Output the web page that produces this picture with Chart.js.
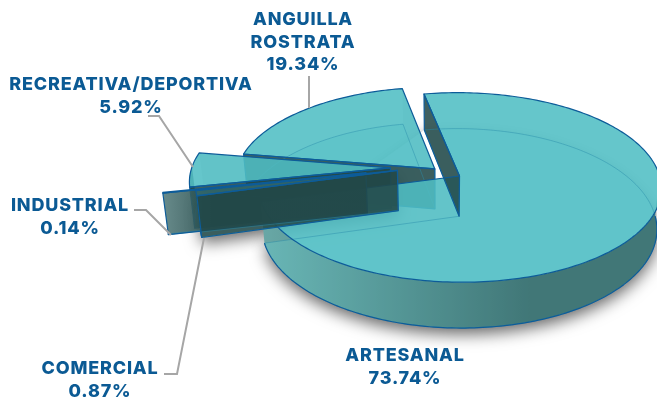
<!DOCTYPE html>
<html>
<head>
<meta charset="utf-8">
<title>Pie</title>
<script src="https://cdn.jsdelivr.net/npm/chart.js@4/dist/chart.umd.min.js"></script>
<style>
    html, body { margin: 0; padding: 0; background: #fff; overflow: hidden; }
    canvas { display: block; }
</style>
</head>
<body>
<canvas id="myChart" width="657" height="401"></canvas>
<script>
// clockwise from the cut near the top of the pie
var categories = ['ARTESANAL', 'COMERCIAL', 'INDUSTRIAL', 'RECREATIVA/DEPORTIVA', 'ANGUILLA ROSTRATA'];
var values = [73.74, 0.87, 0.14, 5.92, 19.34];
var labelLines = [['ARTESANAL'], ['COMERCIAL'], ['INDUSTRIAL'], ['RECREATIVA/DEPORTIVA'], ['ANGUILLA', 'ROSTRATA']];

// how far each slice is pulled out, in pie radii, plus a small vertical nudge in px
var explode = [0.112, 0.222, 0.38, 0.252, 0.04];
var lift = [0, -5, -5, -3, 1];
var drawOrder = [4, 3, 0, 2, 1];

// label centre (x, first line baseline)
var labelPos = [[405, 361], [100, 374], [70, 211], [131, 90], [303, 25]];
var leaders = [
    [[164, 374], [177, 374], [204, 238]],
    [[134, 210], [146, 210], [171, 235]],
    [[148, 116], [159, 116], [193, 167]],
    [[309, 76], [309, 108]]
];

var TOP = 'rgba(80, 190, 196, 0.88)';
var THIN_TOP = 'rgba(52, 104, 108, 0.85)';
var WALL = 'rgba(34, 72, 72, 0.87)';
var EDGE = '#0d5c99';
var TEXT = '#0b5a94';

var pie3d = {
    id: 'pie3d',
    beforeDatasetDraw: function (chart, args) {
        var ctx = chart.ctx;
        var arcs = args.meta.data;
        var R = arcs[0].outerRadius;
        var cx = arcs[0].x;
        var cy = arcs[0].y;
        var rx = R * 1.165;
        var ry = R * 0.54;
        var persp = 0.12;
        var depth = 40;

        function proj(o, x, y, z) {
            var wx = o.ox + x;
            var wy = o.oy + y;
            var s = 1 / (1 - persp * wy);
            return [cx + rx * wx * s * (1 - 0.02 * z), cy + o.lift + ry * wy * s + depth * z * s];
        }

        function rimPts(o, z) {
            var pts = [];
            var n = Math.max(2, Math.ceil((o.end - o.start) / 0.02));
            for (var i = 0; i <= n; i++) {
                var t = o.start + (o.end - o.start) * i / n;
                pts.push(proj(o, Math.cos(t), Math.sin(t), z));
            }
            return pts;
        }

        function path(pts, close) {
            ctx.beginPath();
            pts.forEach(function (p, i) {
                if (i == 0) ctx.moveTo(p[0], p[1]);
                else ctx.lineTo(p[0], p[1]);
            });
            if (close) ctx.closePath();
        }

        function cutWall(o, ang) {
            return [
                proj(o, 0, 0, 0),
                proj(o, Math.cos(ang), Math.sin(ang), 0),
                proj(o, Math.cos(ang), Math.sin(ang), 1),
                proj(o, 0, 0, 1)
            ];
        }

        function geom(i) {
            var arc = arcs[i];
            var mid = (arc.startAngle + arc.endAngle) / 2;
            return {
                start: arc.startAngle,
                end: arc.endAngle,
                ox: explode[i] * Math.cos(mid),
                oy: explode[i] * Math.sin(mid),
                lift: lift[i]
            };
        }

        ctx.save();
        ctx.lineJoin = 'round';

        // soft shadow under the big slice and the thin walls
        ctx.save();
        ctx.shadowColor = 'rgba(0, 0, 0, 0.6)';
        ctx.shadowBlur = 16;
        ctx.shadowOffsetY = 6;
        ctx.fillStyle = '#fff';
        path(rimPts(geom(0), 1), true);
        ctx.fill();
        path(cutWall(geom(1), geom(1).start), true);
        ctx.fill();
        ctx.restore();

        drawOrder.forEach(function (i) {
            var o = geom(i);
            var top = rimPts(o, 0);
            var bottom = rimPts(o, 1);
            var apex = proj(o, 0, 0, 0);
            var apexB = proj(o, 0, 0, 1);

            // outer wall, only the part that faces us
            var frontTop = [];
            var frontBottom = [];
            top.forEach(function (p, k) {
                var t = o.start + (o.end - o.start) * k / (top.length - 1);
                if (Math.sin(t) > -0.02) {
                    frontTop.push(p);
                    frontBottom.unshift(bottom[k]);
                }
            });
            if (frontTop.length > 1) {
                var grad = ctx.createLinearGradient(top[top.length - 1][0], 0, cx + rx * 0.45, 0);
                grad.addColorStop(0, '#72b4b2');
                grad.addColorStop(1, '#3c5f5e');
                ctx.fillStyle = i == 0 ? grad : WALL;
                path(frontTop.concat(frontBottom), true);
                ctx.fill();
            }

            // faint floor of the slice, seen through the top
            ctx.fillStyle = 'rgba(80, 190, 196, 0.25)';
            path([apexB].concat(bottom), true);
            ctx.fill();

            // the cut face turned away from us stays faint
            ctx.fillStyle = 'rgba(34, 72, 72, 0.1)';
            path(cutWall(o, o.end), true);
            ctx.fill();

            ctx.fillStyle = values[i] < 1 ? THIN_TOP : TOP;
            path([apex].concat(top), true);
            ctx.fill();

            // the cut face turned to us is dark
            var wall = cutWall(o, o.start);
            if (i == 2) {
                // the far end of the thin wall catches some light
                var wallGrad = ctx.createLinearGradient(wall[1][0], 0, wall[1][0] + 50, 0);
                wallGrad.addColorStop(0, 'rgba(84, 124, 124, 0.87)');
                wallGrad.addColorStop(1, WALL);
                ctx.fillStyle = wallGrad;
            } else {
                ctx.fillStyle = WALL;
            }
            path(wall, true);
            ctx.fill();

            // faint lines of hidden edges
            ctx.strokeStyle = 'rgba(40, 140, 170, 0.45)';
            ctx.lineWidth = 1;
            path([apexB].concat(bottom), true);
            ctx.stroke();
            path([apex, apexB], false);
            ctx.stroke();

            // blue outlines
            ctx.strokeStyle = EDGE;
            ctx.lineWidth = 1.2;
            path([apex].concat(top), true);
            ctx.stroke();
            if (frontBottom.length > 1) {
                path(frontBottom, false);
                ctx.stroke();
            }
            path(wall, true);
            ctx.stroke();
        });

        ctx.restore();
        return false;
    },
    afterDraw: function (chart) {
        var ctx = chart.ctx;
        ctx.save();

        ctx.strokeStyle = '#a6a6a6';
        ctx.lineWidth = 2;
        leaders.forEach(function (line) {
            ctx.beginPath();
            line.forEach(function (p, i) {
                if (i == 0) ctx.moveTo(p[0], p[1]);
                else ctx.lineTo(p[0], p[1]);
            });
            ctx.stroke();
        });

        ctx.fillStyle = TEXT;
        ctx.textAlign = 'center';
        ctx.textBaseline = 'alphabetic';
        ctx.font = '800 18px Inter';
        ctx.letterSpacing = '0.8px';
        categories.forEach(function (name, i) {
            var lines = labelLines[i].concat([values[i].toFixed(2) + '%']);
            lines.forEach(function (text, k) {
                ctx.fillText(text, labelPos[i][0], labelPos[i][1] + k * 22.5);
            });
        });

        ctx.restore();
    }
};

var chartArea = document.getElementById('myChart').getContext('2d');

var myChart = new Chart(chartArea, {
    type: 'pie',
    data: {
        labels: categories,
        datasets: [{
            data: values,
            backgroundColor: TOP,
            borderWidth: 0
        }]
    },
    options: {
        responsive: false,
        animation: false,
        rotation: -10.8,
        layout: {
            padding: { left: 224, bottom: 60 }
        },
        plugins: {
            legend: { display: false },
            tooltip: { enabled: false }
        }
    },
    plugins: [pie3d]
});
</script>
</body>
</html>
